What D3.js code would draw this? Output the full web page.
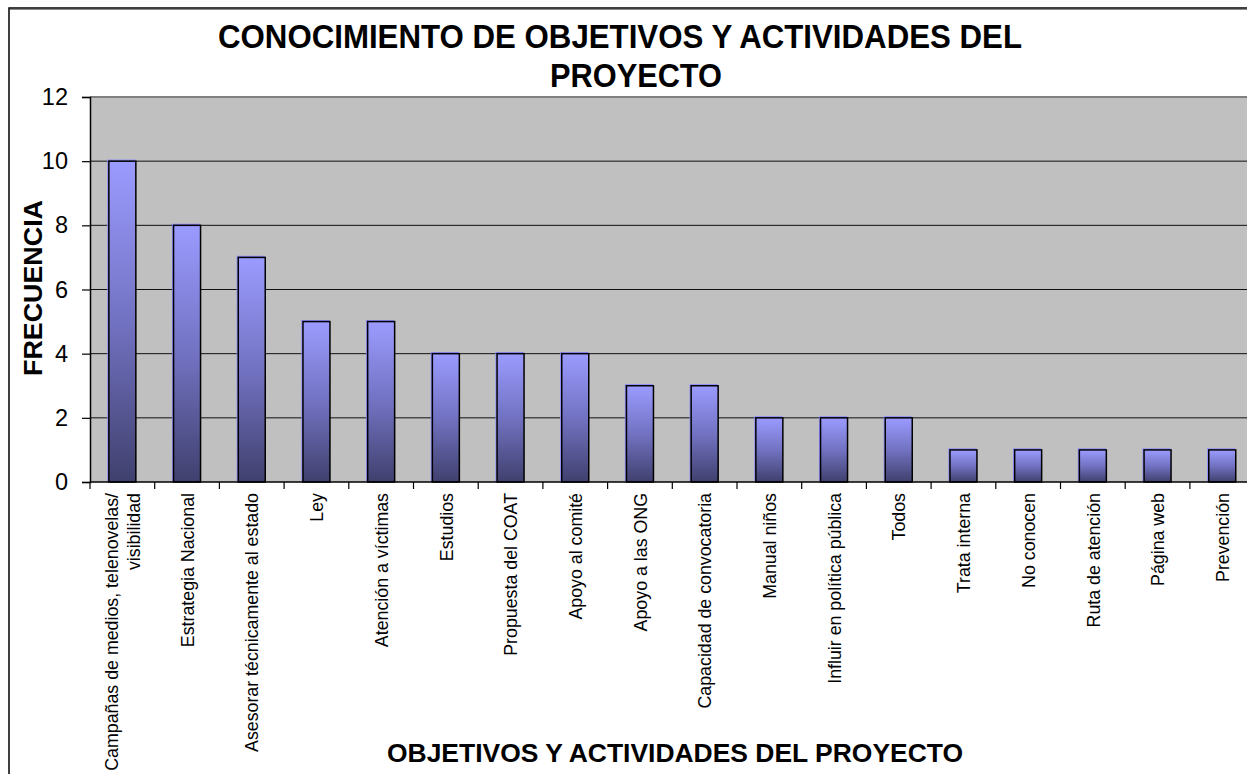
<!DOCTYPE html>
<html><head><meta charset="utf-8">
<script src="https://cdn.jsdelivr.net/npm/d3@7/dist/d3.min.js"></script>
<style>body{margin:0;background:#fff}svg{display:block}text{font-family:"Liberation Sans",Arial,sans-serif}</style>
</head><body><svg id="c" width="1247" height="774"></svg>
<script>
const categories = [
  ["Campañas de medios, telenovelas/", "visibilidad"],
  ["Estrategia Nacional"],
  ["Asesorar técnicamente al estado"],
  ["Ley"],
  ["Atención a víctimas"],
  ["Estudios"],
  ["Propuesta del COAT"],
  ["Apoyo al comité"],
  ["Apoyo a las ONG"],
  ["Capacidad de convocatoria"],
  ["Manual niños"],
  ["Influir en política pública"],
  ["Todos"],
  ["Trata interna"],
  ["No conocen"],
  ["Ruta de atención"],
  ["Página web"],
  ["Prevención"]
];
const values = [10, 8, 7, 5, 5, 4, 4, 4, 3, 3, 2, 2, 2, 1, 1, 1, 1, 1];
const yTicks = [0, 2, 4, 6, 8, 10, 12];
const titleLines = ["CONOCIMIENTO DE OBJETIVOS Y ACTIVIDADES DEL", "PROYECTO"];
const xTitle = "OBJETIVOS Y ACTIVIDADES DEL PROYECTO";
const yTitle = "FRECUENCIA";

const svg = d3.select("#c");
const pL = 90, pR = 90 + 18 * 64.7, pT = 97, pB = 482;
const ids = categories.map((c, i) => i);
const p = 1 - 27 / 64.7;
const x = d3.scaleBand().domain(ids).range([pL, pR]).paddingInner(p).paddingOuter(p / 2);
const y = d3.scaleLinear().domain([0, 12]).range([pB, pT]);

const defs = svg.append("defs");
const g = defs.append("linearGradient").attr("id", "bg").attr("x1", 0).attr("y1", 0).attr("x2", 0).attr("y2", 1);
g.append("stop").attr("offset", "0%").attr("stop-color", "#9b9bff");
g.append("stop").attr("offset", "50%").attr("stop-color", "#7272c2");
g.append("stop").attr("offset", "100%").attr("stop-color", "#40406e");

svg.append("rect").attr("width", 1247).attr("height", 774).attr("fill", "#fff");
// outer chart border
svg.append("rect").attr("x", 9).attr("y", 8).attr("width", 1300).attr("height", 800)
  .attr("fill", "none").attr("stroke", "#000").attr("stroke-width", 1.5);
svg.append("line").attr("x1", 10).attr("x2", 1247).attr("y1", 9.5).attr("y2", 9.5).attr("stroke", "#888").attr("stroke-width", 1);

// plot background
svg.append("rect").attr("x", pL).attr("y", pT).attr("width", pR - pL).attr("height", pB - pT).attr("fill", "#c0c0c0");

// gridlines
svg.append("g").selectAll("line").data(yTicks.filter(t => t > 0 && t < 12)).join("line")
  .attr("x1", pL).attr("x2", pR).attr("y1", d => y(d)).attr("y2", d => y(d))
  .attr("stroke", "#111").attr("stroke-width", 1);
svg.append("line").attr("x1", pL).attr("x2", pR).attr("y1", y(12)).attr("y2", y(12))
  .attr("stroke", "#808080").attr("stroke-width", 2);

// bars
const bars = svg.append("g");
bars.selectAll("rect.hl").data(values).join("rect").attr("class", "hl")
  .attr("x", (d, i) => x(i) - 1).attr("y", d => y(d) - 1)
  .attr("width", x.bandwidth()).attr("height", d => pB - y(d))
  .attr("fill", "none").attr("stroke", "#8888ff").attr("stroke-width", 1.2);
bars.selectAll("rect.b").data(values).join("rect").attr("class", "b")
  .attr("x", (d, i) => x(i)).attr("y", d => y(d))
  .attr("width", x.bandwidth()).attr("height", d => pB - y(d))
  .attr("fill", "url(#bg)").attr("stroke", "#000").attr("stroke-width", 1.5);

// y axis
const ya = svg.append("g").attr("transform", `translate(${pL},0)`)
  .call(d3.axisLeft(y).tickValues(yTicks).tickSize(8).tickPadding(14).tickFormat(d3.format("d")));
ya.select(".domain").attr("stroke", "#000").attr("stroke-width", 1.5);
ya.selectAll(".tick line").attr("stroke", "#000").attr("stroke-width", 1.2);
ya.selectAll(".tick text").attr("font-size", 23.5).attr("fill", "#000").attr("font-family", "Liberation Sans, Arial, sans-serif");

// x axis
const xa = svg.append("g").attr("transform", `translate(0,${pB})`);
xa.append("line").attr("x1", pL).attr("x2", pR).attr("stroke", "#000").attr("stroke-width", 1.5);
xa.selectAll("line.t").data(d3.range(0, 19)).join("line").attr("class", "t")
  .attr("x1", d => pL + d * x.step()).attr("x2", d => pL + d * x.step())
  .attr("y1", 0).attr("y2", 7).attr("stroke", "#000").attr("stroke-width", 1.2);

const labels = svg.append("g");
categories.forEach((lines, i) => {
  const cx = x(i) + x.bandwidth() / 2;
  const n = lines.length, lh = 22;
  lines.forEach((t, j) => {
    const off = (j - (n - 1) / 2) * lh;
    labels.append("text")
      .attr("transform", `translate(${cx + off + 6.7},493) rotate(-90)`)
      .attr("text-anchor", "end").attr("font-size", 17.8).attr("fill", "#000").text(t);
  });
});

// titles
svg.append("text").attr("x", 620).attr("y", 48).attr("text-anchor", "middle")
  .attr("font-size", 33).attr("font-weight", "bold").attr("textLength", 804).attr("lengthAdjust", "spacingAndGlyphs").text(titleLines[0]);
svg.append("text").attr("x", 636).attr("y", 87).attr("text-anchor", "middle")
  .attr("font-size", 33).attr("font-weight", "bold").attr("textLength", 172).attr("lengthAdjust", "spacingAndGlyphs").text(titleLines[1]);
svg.append("text").attr("x", 675).attr("y", 762).attr("text-anchor", "middle")
  .attr("font-size", 25).attr("font-weight", "bold").attr("textLength", 576).attr("lengthAdjust", "spacingAndGlyphs").text(xTitle);
svg.append("text").attr("transform", "translate(42,288) rotate(-90)").attr("text-anchor", "middle")
  .attr("font-size", 26).attr("font-weight", "bold").attr("textLength", 176).attr("lengthAdjust", "spacingAndGlyphs").text(yTitle);
</script></body></html>
